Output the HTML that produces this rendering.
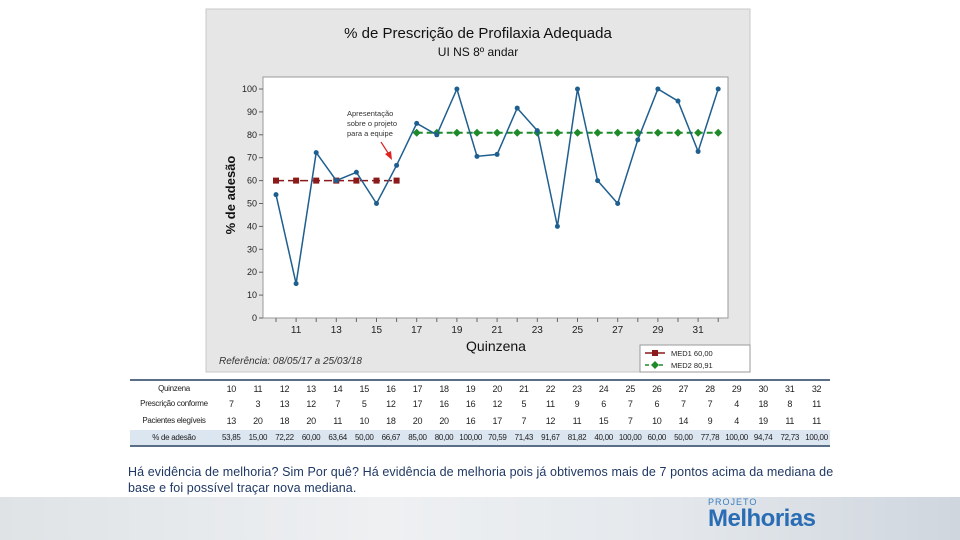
<!DOCTYPE html>
<html><head><meta charset="utf-8"><style>
body{margin:0;width:960px;height:540px;overflow:hidden;background:#fff;font-family:"Liberation Sans",sans-serif;position:relative}
.abs{position:absolute}
table{border-collapse:collapse;table-layout:fixed}
td{white-space:nowrap;overflow:hidden}
</style></head><body>
<div class="abs" style="left:0;top:497px;width:960px;height:43px;background:linear-gradient(90deg,#dfe3e6,#eef0f2 40%,#e4e8ec 70%,#cfd6de)"></div>
<div class="abs" style="left:708px;top:497px;font-size:9px;color:#3a7fc0;letter-spacing:1px">PROJETO</div>
<div class="abs" style="left:708px;top:505px;font-size:24px;font-weight:bold;color:#2a6db4;letter-spacing:-0.5px">Melhorias</div>
<svg class="abs" style="left:0;top:0" width="960" height="380" id="chart"></svg>
<div class="abs" style="left:130px;top:379px;width:700px;border-top:2px solid #5a6f86;border-bottom:2px solid #5a6f86;font-size:9px;color:#222">
<div id="tbl"></div></div>
<div class="abs" style="left:128px;top:464px;width:760px;font-size:12.5px;letter-spacing:0.1px;line-height:16px;color:#1f3864;font-family:'Liberation Sans Narrow','Liberation Sans',sans-serif;white-space:nowrap">Há evidência de melhoria? Sim Por quê? Há evidência de melhoria pois já obtivemos mais de 7 pontos acima da mediana de<br>base e foi possível traçar nova mediana.</div>
<script>
const quinzenas=[10,11,12,13,14,15,16,17,18,19,20,21,22,23,24,25,26,27,28,29,30,31,32];
const conformes=[7,3,13,12,7,5,12,17,16,16,12,5,11,9,6,7,6,7,7,4,18,8,11];
const elegiveis=[13,20,18,20,11,10,18,20,20,16,17,7,12,11,15,7,10,14,9,4,19,11,11];
const adesao=[53.85,15.00,72.22,60.00,63.64,50.00,66.67,85.00,80.00,100.00,70.59,71.43,91.67,81.82,40.00,100.00,60.00,50.00,77.78,100.00,94.74,72.73,100.00];
const median1=60.00, median2=80.91, phaseSplit=7;
const yTicks=[0,10,20,30,40,50,60,70,80,90,100];
const xTicks=[11,13,15,17,19,21,23,25,27,29,31];
const NS="http://www.w3.org/2000/svg";
const svg=document.getElementById('chart');
const X=q=>276+(q-10)*20.1, Y=v=>318-v*2.29;
function el(t,a,p){const e=document.createElementNS(NS,t);for(const k in a)e.setAttribute(k,a[k]);(p||svg).appendChild(e);return e;}
const bg=el('rect',{x:206,y:9,width:544,height:363,fill:'#e6e6e6',stroke:'#c8c8c8'});


const pa=el('rect',{x:263,y:77,width:465,height:241,fill:'#fff',stroke:'#999'});


let t=el('text',{x:478,y:38,'text-anchor':'middle','font-size':15,fill:'#111'});t.textContent='% de Prescrição de Profilaxia Adequada';


t=el('text',{x:478,y:56,'text-anchor':'middle','font-size':12,fill:'#111'});t.textContent='UI NS 8º andar';


yTicks.forEach(v=>{el('line',{x1:259,x2:263,y1:Y(v),y2:Y(v),stroke:'#666'});
 const l=el('text',{x:257,y:Y(v)+3,'text-anchor':'end','font-size':9,fill:'#222'});l.textContent=v;
 
 });
quinzenas.forEach(q=>el('line',{x1:X(q),x2:X(q),y1:318,y2:322,stroke:'#666'}));
xTicks.forEach(q=>{const l=el('text',{x:X(q),y:333,'text-anchor':'middle','font-size':10,fill:'#222'});l.textContent=q;
 
 });
t=el('text',{x:496,y:351,'text-anchor':'middle','font-size':14,fill:'#111'});t.textContent='Quinzena';


t=el('text',{x:235,y:195,'text-anchor':'middle','font-size':13,'font-weight':'bold',fill:'#111',transform:'rotate(-90 235 195)'});t.textContent='% de adesão';


t=el('text',{x:219,y:364,'font-size':10,'font-style':'italic',fill:'#333'});t.textContent='Referência: 08/05/17 a 25/03/18';


const q1=quinzenas.slice(0,phaseSplit), q2=quinzenas.slice(phaseSplit);
el('line',{x1:X(q1[0]),x2:X(q1[q1.length-1]),y1:Y(median1),y2:Y(median1),stroke:'#8b1a1a','stroke-width':1.5,'stroke-dasharray':'8,4'});
q1.forEach(q=>{const r=el('rect',{x:X(q)-3,y:Y(median1)-3,width:6,height:6,fill:'#8b1a1a'});
 
 });
el('line',{x1:X(q2[0]),x2:X(q2[q2.length-1]),y1:Y(median2),y2:Y(median2),stroke:'#1f8a2a','stroke-width':2,'stroke-dasharray':'6,4'});
q2.forEach(q=>{const p=el('path',{d:`M${X(q)-4} ${Y(median2)}L${X(q)} ${Y(median2)-4}L${X(q)+4} ${Y(median2)}L${X(q)} ${Y(median2)+4}Z`,fill:'#1f8a2a'});
 
 });
const ln=el('polyline',{points:quinzenas.map((q,i)=>X(q)+','+Y(adesao[i])).join(' '),fill:'none',stroke:'#1f5f8f','stroke-width':1.5});


quinzenas.forEach((q,i)=>{const c=el('circle',{cx:X(q),cy:Y(adesao[i]),r:2.5,fill:'#1f5f8f'});
 
 });
['Apresentação','sobre o projeto','para a equipe'].forEach((s,i)=>{const a=el('text',{x:347,y:116+i*10,'font-size':7.5,fill:'#333'});a.textContent=s;
 
 });
el('line',{x1:381,y1:142,x2:390,y2:156,stroke:'#d22','stroke-width':1.2});
el('path',{d:'M392 160L385 154L391 151Z',fill:'#d22'});
const lg=el('rect',{x:640,y:345,width:110,height:27,fill:'#fff',stroke:'#999'});


el('line',{x1:645,x2:665,y1:353,y2:353,stroke:'#8b1a1a','stroke-width':1.5});
el('rect',{x:652,y:350,width:6,height:6,fill:'#8b1a1a'});
t=el('text',{x:671,y:356,'font-size':7.5,fill:'#222'});t.textContent='MED1 60,00';


el('line',{x1:645,x2:665,y1:365,y2:365,stroke:'#1f8a2a','stroke-width':1.5,'stroke-dasharray':'4,3'});
el('path',{d:'M651 365L655 361L659 365L655 369Z',fill:'#1f8a2a'});
t=el('text',{x:671,y:368,'font-size':7.5,fill:'#222'});t.textContent='MED2 80,91';


const rows=[['Quinzena',quinzenas],['Prescrição conforme',conformes],['Pacientes elegíveis',elegiveis],['% de adesão',adesao.map(v=>v.toFixed(2).replace('.',','))]];
const tb=document.createElement('table');tb.style.width='700px';
const cg=document.createElement('colgroup');
const c0=document.createElement('col');c0.style.width='88px';cg.appendChild(c0);
quinzenas.forEach(()=>{const c=document.createElement('col');cg.appendChild(c);});
tb.appendChild(cg);
rows.forEach((r,ri)=>{const tr=document.createElement('tr');tr.style.height=ri==2?'19px':'15px';
 if(ri==3)tr.style.background='#dce6f1';
 const th=document.createElement('td');th.textContent=r[0];th.style.cssText='text-align:center;font-size:8px;padding:0;letter-spacing:-0.3px';tr.appendChild(th);
 r[1].forEach(v=>{const td=document.createElement('td');td.textContent=v;td.style.cssText='text-align:center;padding:0;letter-spacing:-0.3px;font-size:'+(ri==3?'8px':'9px');tr.appendChild(td);});
 
 
 tb.appendChild(tr);});
document.getElementById('tbl').appendChild(tb);
</script>
</body></html>
